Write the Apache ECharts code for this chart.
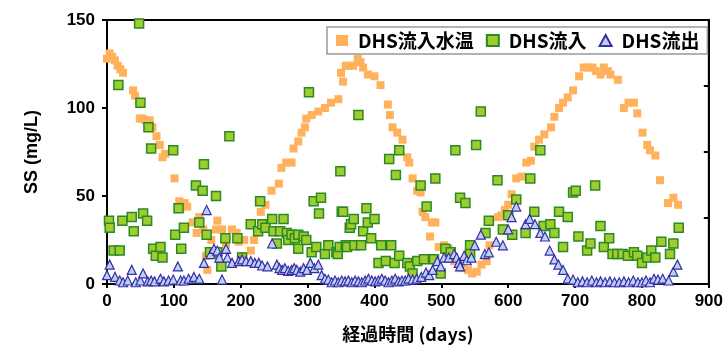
<!DOCTYPE html>
<html>
<head>
<meta charset="utf-8">
<script src="https://cdn.jsdelivr.net/npm/echarts@6/dist/echarts.min.js"></script>
<style>
  html, body { margin: 0; padding: 0; background: #fff; }
  #chart { width: 726px; height: 349px; }
</style>
</head>
<body>
<div id="chart"></div>
<script>
// [経過日数, 値]
var waterTemp = [
  [0,128],[4,131],[8,129],[12,127],[16,124],[20,122],[24,120],[39,110],[42,107],[49,94],[53,94],
  [58,93],[64,93],[68,89],[74,84],[79,79],[83,72],[87,74],[101,60],[108,47],[110,43],[116,46],
  [120,44],[128,35],[134,29],[138,38],[144,31],[148,16],[150,8],[156,25],[163,31],[165,36],
  [172,31],[178,22],[187,31],[194,29],[197,24],[202,16],[205,25],[215,19],[220,25],[230,41],
  [237,45],[246,53],[257,57],[261,66],[268,69],[276,69],[279,77],[286,81],[291,86],[296,89],
  [298,94],[306,96],[316,98],[326,100],[335,103],[346,105],[350,120],[353,115],[357,124],
  [362,124],[368,124],[375,128],[379,126],[383,123],[390,119],[400,118],[409,113],[420,102],
  [423,96],[427,89],[434,86],[442,82],[449,72],[452,69],[457,60],[464,53],[469,52],[472,41],
  [476,38],[483,27],[486,35],[491,35],[496,21],[504,22],[511,20],[519,13],[531,9],[534,13],
  [540,8],[546,6],[553,7],[560,11],[568,13],[572,22],[585,38],[590,39],[595,42],[600,45],
  [605,51],[612,60],[620,61],[627,69],[634,70],[639,78],[646,82],[654,85],[664,89],[669,95],
  [676,100],[682,103],[689,106],[697,110],[706,118],[713,123],[719,123],[726,123],[731,121],
  [738,119],[743,123],[749,121],[753,119],[764,116],[773,100],[780,103],[788,103],[793,97],
  [801,86],[808,79],[812,76],[820,73],[827,59],[839,46],[847,49],[854,45]
];
var inflowSS = [
  [3,36],[4,32],[10,19],[17,113],[19,19],[23,36],[37,38],[40,30],[48,148],[50,103],[54,40],
  [60,36],[62,89],[66,77],[69,20],[73,16],[80,21],[83,15],[99,76],[102,28],[107,43],[111,20],
  [115,32],[133,56],[138,35],[143,53],[145,68],[149,28],[154,18],[163,50],[165,18],[171,10],
  [177,26],[183,84],[195,26],[202,15],[215,34],[226,30],[229,47],[232,34],[237,32],[247,37],
  [249,30],[254,23],[259,30],[264,37],[269,29],[271,25],[276,28],[281,26],[286,28],[286,20],
  [294,27],[298,25],[302,109],[306,18],[309,47],[313,21],[317,40],[320,49],[326,17],[331,22],
  [343,18],[345,17],[348,21],[349,64],[351,41],[353,41],[357,22],[359,21],[363,32],[365,34],
  [369,37],[370,22],[376,96],[380,22],[383,30],[388,43],[390,35],[395,26],[400,37],[406,12],
  [410,22],[417,13],[422,71],[425,22],[430,12],[432,62],[437,76],[437,16],[449,12],[453,10],
  [457,6],[464,13],[469,56],[474,14],[478,44],[489,14],[491,60],[499,6],[506,20],[514,18],
  [521,76],[528,49],[536,46],[543,22],[543,17],[552,79],[559,98],[566,29],[571,36],[584,59],
  [592,31],[600,39],[606,28],[612,48],[626,29],[633,60],[639,41],[648,76],[653,33],[663,34],
  [669,29],[676,41],[682,21],[689,38],[697,52],[701,53],[705,27],[718,19],[723,23],[730,56],
  [738,33],[743,21],[751,26],[756,17],[763,17],[771,17],[779,16],[788,18],[793,16],[800,12],
  [808,15],[814,19],[820,15],[829,24],[842,17],[847,23],[855,32]
];
var outflowSS = [
  [0,5],[4,11],[12,4],[19,2],[24,1],[31,2],[37,8],[43,1],[50,2],[54,6],[61,1.5],[66,2],[71,1.5],
  [80,3],[85,1.5],[92,2],[99,2.5],[106,10],[110,2],[115,2],[122,3],[130,4],[138,3],[145,12],
  [149,42],[155,17],[160,20],[165,19],[168,15],[172,2.5],[178,20],[180,15],[187,12],[197,13],
  [202,14],[208,13],[215,13],[221,12],[227,12],[232,10.5],[240,10],[247,23],[254,11],[258,9],
  [262,8],[266,9],[271,7.5],[276,8],[280,9],[284,8],[289,7],[294,9],[299,8],[304,12],[310,9],
  [316,11],[321,5],[326,3],[331,2.5],[336,1],[341,2],[346,1],[351,2],[356,1.5],[361,2],[366,1],
  [371,2],[376,1.5],[381,1],[386,2],[391,3],[396,2],[401,1.5],[406,2],[411,3],[416,2],[421,1],
  [426,2],[431,3],[436,1.5],[441,2],[446,2],[451,3],[457,2.5],[463,3],[470,4],[477,6.5],[482,5],
  [487,8],[494,13],[499,10],[504,15],[511,15],[519,17],[523,15],[526,12],[528,10],[534,16],
  [538,13.5],[545,15],[550,22],[559,28],[565,17],[571,18],[582,24],[592,22],[600,31],[605,38],
  [612,44],[626,34],[632,37],[640,34],[648,29],[655,27],[662,19],[669,14],[675,11],[682,8],
  [689,3],[697,2.5],[704,1],[711,1.5],[718,1],[725,2],[732,1],[738,1.5],[745,1],[752,1.5],
  [759,1],[766,1],[773,1.5],[780,1],[787,2],[794,1],[800,1],[806,2],[812,1],[818,3],[824,2.5],
  [831,3],[840,2],[847,7],[853,11]
];
var seriesNames = ['DHS流入水温', 'DHS流入', 'DHS流出'];

var chart = echarts.init(document.getElementById('chart'));

var tickFont = {
  color: '#000',
  fontSize: 17,
  fontWeight: 'bold',
  fontFamily: 'Liberation Sans, Arial, sans-serif'
};

var option = {
  animation: false,
  grid: {
    left: 107,
    right: 11,
    top: 20,
    bottom: 65,
    show: true,
    borderColor: '#000',
    borderWidth: 2
  },
  legend: {
    left: 327,
    top: 27,
    padding: [4, 8, 4, 9],
    itemGap: 12,
    itemWidth: 12,
    itemHeight: 11,
    borderColor: '#999',
    borderWidth: 1.5,
    data: seriesNames,
    textStyle: {
      color: '#000',
      fontSize: 19,
      padding: [0, 0, 0, 5],
      fontFamily: 'Noto Sans CJK JP, sans-serif',
      fontWeight: 'bold'
    }
  },
  xAxis: {
    type: 'value',
    min: 0,
    max: 900,
    interval: 100,
    name: '経過時間 (days)',
    nameLocation: 'middle',
    nameGap: 41,
    nameTextStyle: {
      color: '#000',
      fontSize: 18,
      fontWeight: 'bold',
      fontFamily: 'Noto Sans CJK JP, sans-serif'
    },
    axisLine: { lineStyle: { color: '#000', width: 2 } },
    axisTick: { length: 4, lineStyle: { color: '#000', width: 2 } },
    axisLabel: Object.assign({ margin: 9 }, tickFont),
    splitLine: { show: false }
  },
  yAxis: [
    {
      type: 'value',
      min: 0,
      max: 150,
      interval: 50,
      name: 'SS (mg/L)',
      nameLocation: 'middle',
      nameGap: 66,
      nameTextStyle: {
        color: '#000',
        fontSize: 18,
        fontWeight: 'bold',
        fontFamily: 'Liberation Sans, Arial, sans-serif'
      },
      axisLine: { show: true, lineStyle: { color: '#000', width: 2 } },
      axisTick: { show: true, length: 5, lineStyle: { color: '#000', width: 2 } },
      axisLabel: Object.assign({ margin: 12 }, tickFont),
      splitLine: { show: false }
    },
    {
      // 右軸（ラベルは切れている）
      type: 'value',
      position: 'right',
      min: 0,
      max: 40,
      interval: 10,
      axisLine: { show: true, lineStyle: { color: '#000', width: 2 } },
      axisTick: { show: true, inside: true, length: 5, lineStyle: { color: '#000', width: 2 } },
      axisLabel: { show: false },
      splitLine: { show: false }
    }
  ],
  series: [
    {
      name: seriesNames[0],
      type: 'scatter',
      symbol: 'rect',
      symbolSize: 8,
      itemStyle: { color: '#ffb25b', opacity: 1 },
      data: waterTemp
    },
    {
      name: seriesNames[1],
      type: 'scatter',
      symbol: 'rect',
      symbolSize: 9,
      itemStyle: { color: '#9fcc2e', borderColor: '#2b8a22', borderWidth: 1.5, opacity: 1 },
      data: inflowSS
    },
    {
      name: seriesNames[2],
      type: 'scatter',
      symbol: 'triangle',
      symbolSize: 9,
      itemStyle: { color: '#b7d3f2', borderColor: '#3b2ca6', borderWidth: 1.2, opacity: 1 },
      data: outflowSS
    }
  ]
};
chart.setOption(option);
</script>
</body>
</html>
